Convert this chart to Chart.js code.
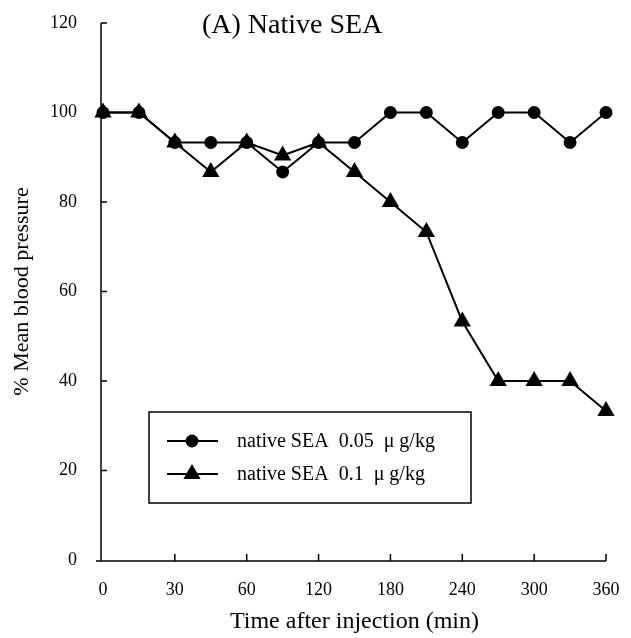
<!DOCTYPE html>
<html>
<head>
<meta charset="utf-8">
<script src="https://cdn.jsdelivr.net/npm/chart.js@4.4.1/dist/chart.umd.min.js"></script>
<style>
  html, body { margin: 0; padding: 0; background: #fff; }
  #wrap { width: 631px; height: 638px; position: relative; }
</style>
</head>
<body>
<div id="wrap"><canvas id="chart"></canvas></div>
<script>
// data (min after injection, % of baseline)
const categories = ['0','15','30','45','60','90','120','150','180','210','240','270','300','330','360'];
const xTickLabels = ['0','30','60','120','180','240','300','360'];
const yTicks = [0,20,40,60,80,100,120];
const dose005 = [100,100,93.3,93.3,93.3,86.7,93.3,93.3,100,100,93.3,100,100,93.3,100];
const dose01  = [100,100,93.3,86.7,93.3,90.4,93.3,86.7,80,73.3,53.3,40,40,40,33.3];
const seriesNames = ['native SEA  0.05  \u03bc g/kg', 'native SEA  0.1  \u03bc g/kg'];
const chartTitle = '(A) Native SEA';

const SERIF = '"Liberation Serif", "DejaVu Serif", serif';

// axes with inward ticks, title and boxed legend
const framePlugin = {
  id: 'frame',
  afterDraw(chart){
    const ctx = chart.ctx;
    const x = chart.scales.x, y = chart.scales.y;
    const left = chart.chartArea.left - 2, bottom = chart.chartArea.bottom + 1;
    ctx.save();
    ctx.strokeStyle = '#000';
    ctx.lineWidth = 1.5;
    ctx.beginPath();
    ctx.moveTo(left, y.getPixelForValue(120));
    ctx.lineTo(left, bottom);
    ctx.moveTo(left - 5, bottom);
    ctx.lineTo(x.getPixelForValue(categories.length - 1), bottom);
    yTicks.forEach(v => {
      if (v === 0) return;
      const py = y.getPixelForValue(v);
      ctx.moveTo(left, py); ctx.lineTo(left + 6, py);
    });
    categories.forEach((c, i) => {
      if (!xTickLabels.includes(c) || i === 0) return;
      const px = x.getPixelForValue(i);
      ctx.moveTo(px, bottom); ctx.lineTo(px, bottom - 7);
    });
    ctx.stroke();

    // title inside the plot
    ctx.fillStyle = '#000';
    ctx.font = '28px ' + SERIF;
    ctx.textBaseline = 'middle';
    ctx.textAlign = 'left';
    ctx.fillText(chartTitle, 202, 26);

    // legend box
    ctx.lineWidth = 1.5;
    ctx.strokeRect(149, 412, 322, 91);
    ctx.font = '20px ' + SERIF;
    chart.data.datasets.forEach((ds, i) => {
      const ry = 441 + i * 33;
      ctx.lineWidth = 2;
      ctx.beginPath();
      ctx.moveTo(167, ry); ctx.lineTo(218, ry);
      ctx.stroke();
      Chart.helpers.drawPoint(ctx, {pointStyle: ds.pointStyle, radius: ds.pointRadius, borderWidth: 1}, 192, ry);
      ctx.fill();
      ctx.fillText(ds.label, 237, ry + 1);
    });
    ctx.restore();
  }
};

new Chart(document.getElementById('chart'), {
  type: 'line',
  data: {
    labels: categories,
    datasets: [
      {
        label: seriesNames[0],
        data: dose005,
        borderColor: '#000', backgroundColor: '#000',
        borderWidth: 2, pointStyle: 'circle', pointRadius: 5.5,
        tension: 0
      },
      {
        label: seriesNames[1],
        data: dose01,
        borderColor: '#000', backgroundColor: '#000',
        borderWidth: 2, pointStyle: 'triangle', pointRadius: 8,
        tension: 0
      }
    ]
  },
  options: {
    responsive: true,
    maintainAspectRatio: false,
    animation: false,
    layout: { padding: { top: 23, right: 25, left: 0, bottom: 0 } },
    plugins: { legend: { display: false }, tooltip: { enabled: false } },
    scales: {
      x: {
        type: 'category',
        offset: false,
        border: { display: false },
        grid: { display: false, drawTicks: false },
        ticks: {
          autoSkip: false, maxRotation: 0, padding: 19,
          color: '#000', font: { family: SERIF, size: 18 },
          callback: (v, i) => xTickLabels.includes(categories[i]) ? categories[i] : ''
        },
        title: {
          display: true, text: 'Time after injection (min)', color: '#000',
          font: { family: SERIF, size: 24 }, padding: { top: 4, bottom: 2 }
        },
        afterFit: s => { s.height = 78; s.paddingLeft = 0; s.paddingRight = 0; }
      },
      y: {
        min: 0, max: 120,
        border: { display: false },
        grid: { display: false, drawTicks: false },
        afterBuildTicks: s => { s.ticks = yTicks.map(v => ({ value: v })); },
        ticks: { padding: 26, color: '#000', font: { family: SERIF, size: 18 } },
        title: {
          display: true, text: '% Mean blood pressure', color: '#000',
          font: { family: SERIF, size: 22 }, padding: { top: 9, bottom: 4 }
        },
        afterFit: s => { s.width = 103; s.paddingTop = 0; s.paddingBottom = 0; }
      }
    }
  },
  plugins: [framePlugin]
});
</script>
</body>
</html>
